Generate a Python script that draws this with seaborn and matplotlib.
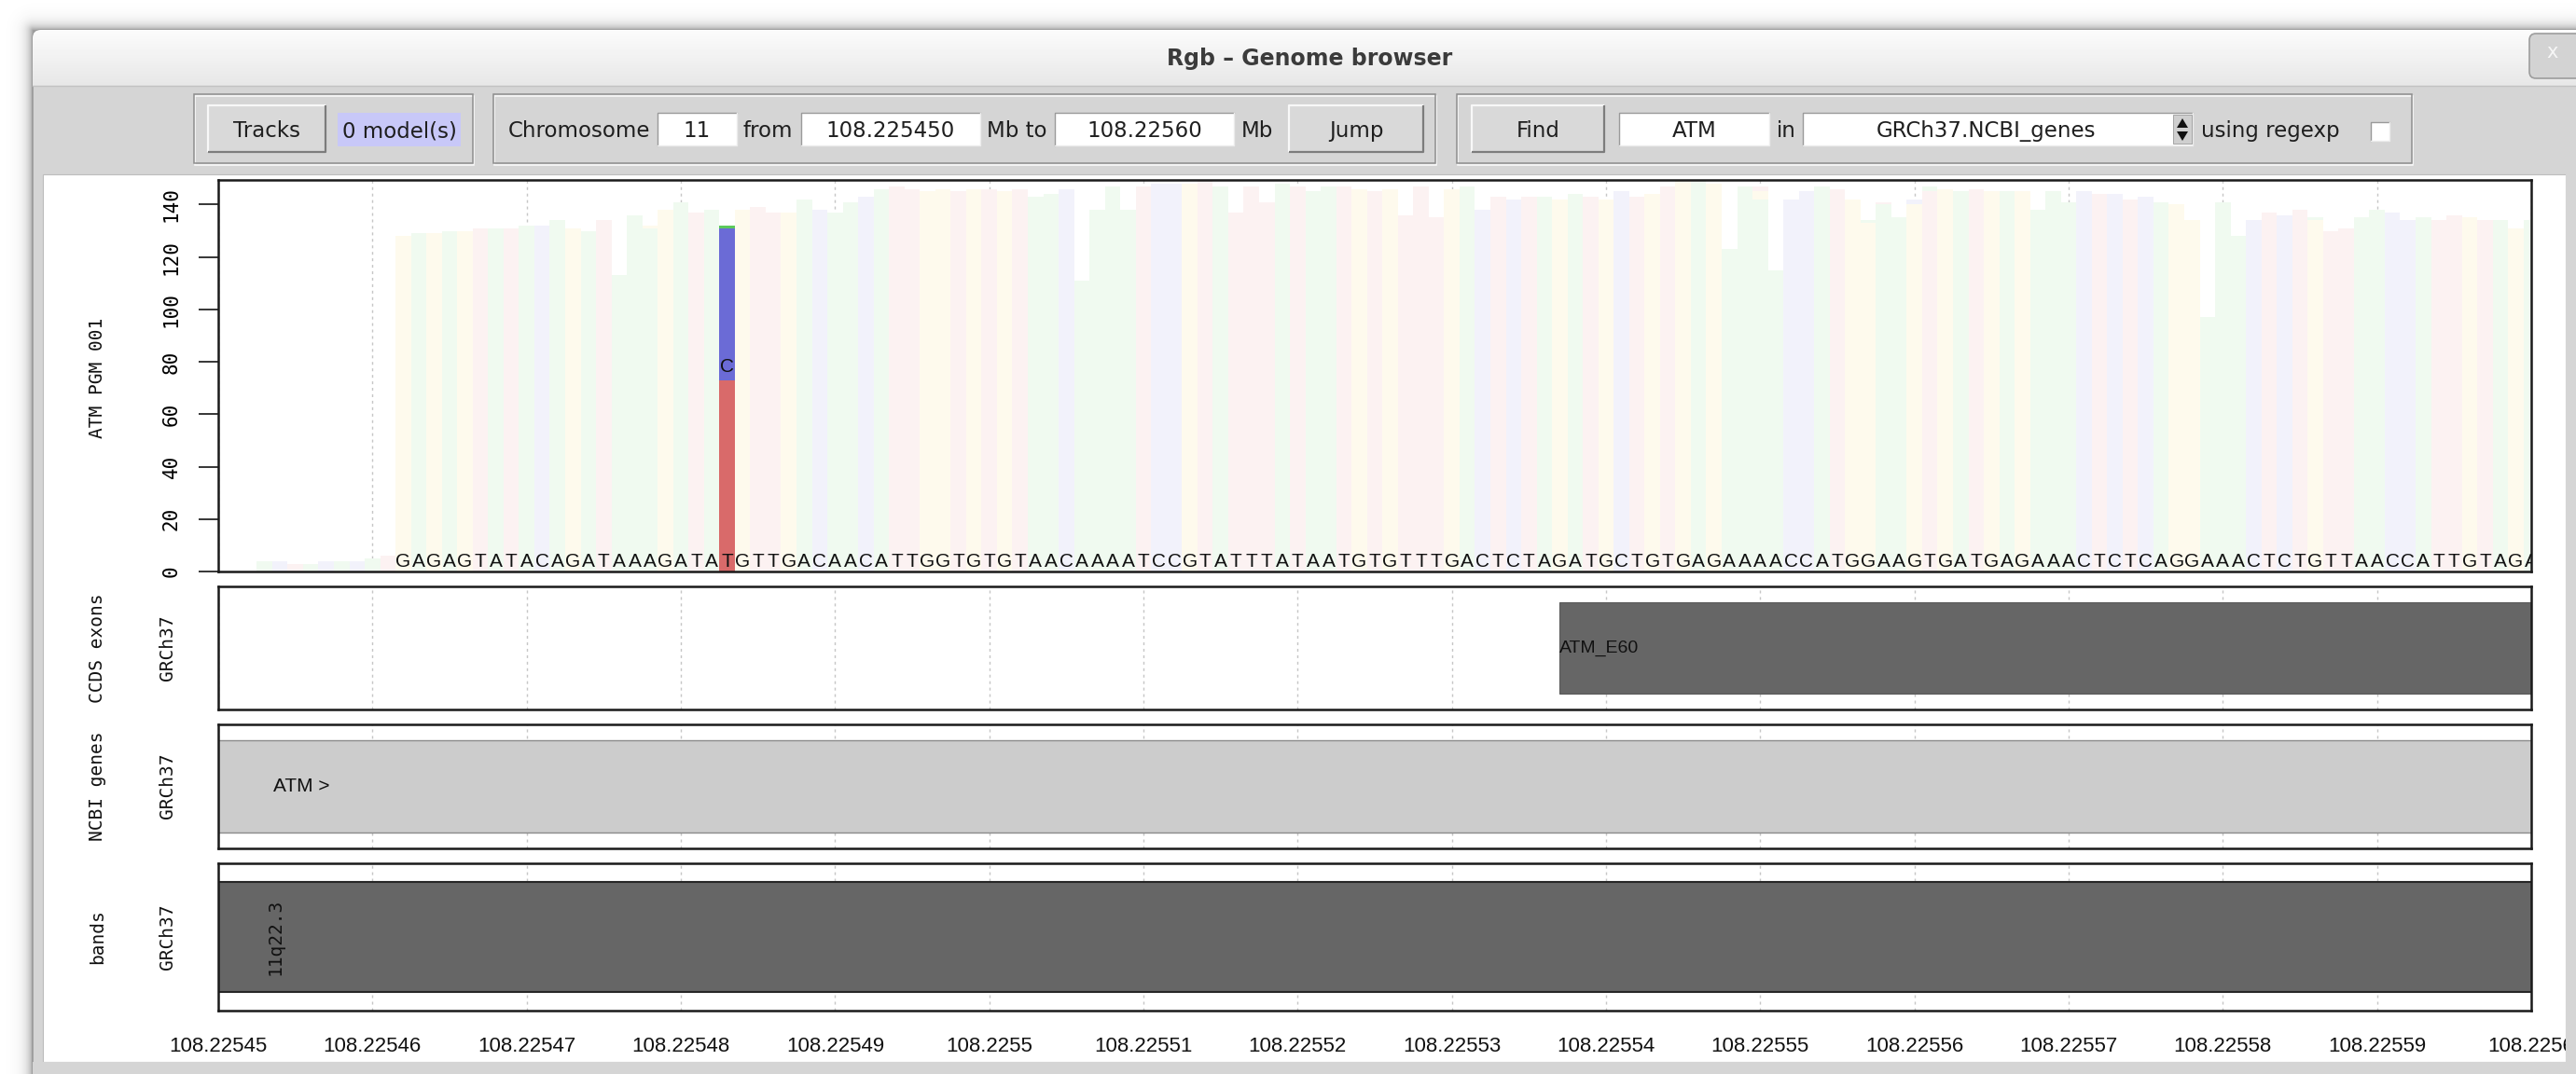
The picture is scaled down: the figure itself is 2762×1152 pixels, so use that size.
import numpy as np
import pandas as pd
import matplotlib
matplotlib.use("Agg")
import matplotlib.pyplot as plt
from matplotlib import font_manager
from matplotlib.patches import Rectangle, FancyBboxPatch, Polygon
from matplotlib.colors import to_rgb
import seaborn as sns

# ------------------------------------------------------------------ data
window_title = "Rgb \u2013 Genome browser"
models_label = "0 model(s)"
chromosome = "11"
view_from_mb = "108.225450"
view_to_mb = "108.22560"
search_term = "ATM"
search_track = "GRCh37.NCBI_genes"

view_start = 108225450
view_end = 108225600

# per-base read depth of the coverage track, starting at first_position
first_position = 108225453
reference_bases = ("ACTACACAT"
                   "GAGAGTATACAGATAAAGATATGTTGACAACATTGGTGTGTAACAAAATCCGTATTTATA"
                   "ATGTGTTTGACTCTAGATGCTGTGAGAAAACCATGGAAGTGATGAGAAACTCTCAGGAAA"
                   "CTCTGTTAACCATTGTAGA")
depth = [4, 4, 3, 3, 4, 4, 4, 5, 6,
         128, 129, 129, 130, 130, 131, 131, 131, 132, 132,
         134, 131, 130, 134, 113, 136, 132, 138, 141, 137,
         138, 132, 138, 139, 137, 137, 142, 138, 137, 141,
         143, 146, 147, 146, 145, 146, 145, 146, 146, 145,
         146, 143, 144, 146, 111, 138, 147, 138, 147, 148,
         148, 148, 149, 147, 137, 147, 141, 148, 147, 145,
         147, 147, 146, 145, 146, 136, 147, 135, 146, 147,
         138, 143, 142, 143, 143, 142, 144, 143, 142, 145,
         143, 144, 147, 149, 149, 148, 123, 147, 147, 115,
         142, 145, 147, 146, 142, 134, 141, 135, 142, 147,
         146, 145, 146, 145, 145, 145, 138, 145, 141, 145,
         144, 144, 142, 143, 141, 140, 134, 97, 141, 128,
         134, 137, 136, 138, 135, 130, 131, 135, 138, 137,
         134, 135, 134, 136, 135, 134, 134, 131, 134]

# non-reference base counts at low-frequency positions
minor_positions = [108225478, 108225550, 108225550, 108225557,
                   108225558, 108225560, 108225561, 108225586]
minor_bases = ["G", "G", "T", "A", "T", "C", "A", "A"]
minor_counts = [1, 3, 2, 1, 1, 2, 2, 1]

# called variant: base composition at that position
variant_position = 108225483
variant_bases = ["T", "C", "A"]
variant_counts = [73, 58, 1]
variant_label = "C"

exon_name = "ATM_E60"
exon_start = 108225537
exon_end = 108225709

gene_name = "ATM"
gene_start = 108093559
gene_end = 108239826

band_name = "11q22.3"
band_start = 102900000
band_end = 110400000

coverage_track = "ATM PGM 001"
track_names = ["CCDS exons", "NCBI genes", "bands"]
assembly = "GRCh37"

x_ticks = list(range(view_start, view_end + 1, 10))
x_tick_labels = ["108.22545", "108.22546", "108.22547", "108.22548",
                 "108.22549", "108.2255", "108.22551", "108.22552",
                 "108.22553", "108.22554", "108.22555", "108.22556",
                 "108.22557", "108.22558", "108.22559", "108.2256"]
y_ticks = [0, 20, 40, 60, 80, 100, 120, 140]
depth_max = 149.4

# ------------------------------------------------------------------ style
W, H, DPI = 2762, 1152, 100
base_colors = {"A": "#5cc95c", "C": "#6b6bd6", "G": "#f5c232", "T": "#d96a6a"}


def pale(color, strength=0.09):
    rgb = np.array(to_rgb(color))
    return tuple(1.0 - strength * (1.0 - rgb))


def first_available(names, fallback):
    for name in names:
        try:
            font_manager.findfont(font_manager.FontProperties(family=name),
                                  fallback_to_default=False)
            return name
        except Exception:
            pass
    return fallback


GUI = "DejaVu Sans"
MONO = "DejaVu Sans Mono"
PLOT = first_available(["Liberation Sans"], "DejaVu Sans")
NARROW = first_available(["Liberation Sans Narrow", "Arial Narrow"], PLOT)
GUI_FS = 16.5
TXT = "#1f1f1f"

fig = plt.figure(figsize=(W / DPI, H / DPI), dpi=DPI, facecolor="white")


def px_axes(x0, y0, x1, y1):
    return fig.add_axes([x0 / W, 1 - y1 / H, (x1 - x0) / W, (y1 - y0) / H])


# ------------------------------------------------------------------ window chrome
bg = px_axes(0, 0, W, H)
bg.set_zorder(-1)
bg.axis("off")

WX, WY = 35, 32
yy, xx = np.mgrid[0:H, 0:W].astype(float)
dist = np.hypot(np.clip(WX - xx, 0, None), np.clip(WY - yy, 0, None))
shadow = np.zeros((H, W, 4))
shadow[..., :3] = 0.25
shadow[..., 3] = 0.5 * np.exp(-dist / 6.0)
bg.imshow(shadow, extent=(0, W, H, 0), aspect="auto", interpolation="bilinear", zorder=0.1)

body = FancyBboxPatch((WX, WY), W + 40, H + 40, boxstyle="round,pad=0,rounding_size=9",
                      fc="#d5d5d5", ec="#9a9a9a", lw=1.2, zorder=0.2)
bg.add_patch(body)
grad = np.linspace(0.985, 0.905, 60)[:, None]
title_im = bg.imshow(grad, cmap="gray", vmin=0, vmax=1, extent=(WX, W + 20, 92, WY),
                     aspect="auto", zorder=0.3)
title_im.set_clip_path(body)
bg.plot([WX, W], [92, 92], color="#c2c2c2", lw=1, zorder=0.4)
bg.text(1404, 70, window_title, ha="center", va="baseline", fontsize=17,
        fontweight="bold", family=GUI, color="#3b3b3b", zorder=1)

close_btn = FancyBboxPatch((2712, 36), 70, 48, boxstyle="round,pad=0,rounding_size=7",
                           fc="#d3d3d3", ec="#9d9d9d", lw=1.2, zorder=0.5)
bg.add_patch(close_btn)
bg.text(2737, 62, "x", ha="center", va="baseline", fontsize=15, family=GUI,
        color="#f6f6f6", zorder=1)

# white content area
bg.add_patch(Rectangle((46, 187), 2751 - 46, 1139 - 187, fc="white", ec="#bdbdbd",
                       lw=0.8, zorder=0.5))


def etched_frame(x0, y0, x1, y1):
    bg.add_patch(Rectangle((x0 + 1.5, y0 + 1.5), x1 - x0, y1 - y0, fill=False,
                           ec="#fbfbfb", lw=1.1, zorder=0.6))
    bg.add_patch(Rectangle((x0, y0), x1 - x0, y1 - y0, fill=False,
                           ec="#8e8e8e", lw=1.1, zorder=0.6))


def button(x0, y0, x1, y1, label):
    bg.add_patch(Rectangle((x0, y0), x1 - x0, y1 - y0, fc="#d9d9d9", ec="none", zorder=0.6))
    bg.plot([x0, x0, x1], [y1, y0, y0], color="#f8f8f8", lw=1.6, zorder=0.7,
            solid_capstyle="butt")
    bg.plot([x0, x1, x1], [y1, y1, y0], color="#7c7c7c", lw=1.6, zorder=0.7,
            solid_capstyle="butt")
    bg.text((x0 + x1) / 2, 147, label, ha="center", va="baseline", fontsize=GUI_FS,
            family=GUI, color=TXT, zorder=1)


def entry(x0, y0, x1, y1, label, cx=None, fc="white"):
    bg.add_patch(Rectangle((x0, y0), x1 - x0, y1 - y0, fc=fc, ec="none", zorder=0.6))
    bg.plot([x0, x0, x1], [y1, y0, y0], color="#9a9a9a", lw=1.0, zorder=0.7)
    bg.plot([x0, x1, x1], [y1, y1, y0], color="#ececec", lw=1.0, zorder=0.7)
    if label:
        bg.text((x0 + x1) / 2 if cx is None else cx, 147, label, ha="center",
                va="baseline", fontsize=GUI_FS, family=GUI, color=TXT, zorder=1)


def label(x, s):
    bg.text(x, 147, s, ha="left", va="baseline", fontsize=GUI_FS, family=GUI,
            color=TXT, zorder=1)


etched_frame(208, 101, 507, 175)
button(223, 113, 349, 163, "Tracks")
bg.add_patch(Rectangle((362, 121), 494 - 362, 157 - 121, fc="#c8c8f8", ec="none", zorder=0.6))
bg.text(428, 147, models_label, ha="center", va="baseline", fontsize=GUI_FS, family=GUI,
        color=TXT, zorder=1)

etched_frame(529, 101, 1539, 175)
label(545, "Chromosome")
entry(705, 121, 790, 156, chromosome)
label(797, "from")
entry(859, 121, 1051, 156, view_from_mb)
label(1058, "Mb to")
entry(1131, 121, 1323, 156, view_to_mb)
label(1331, "Mb")
button(1382, 113, 1526, 163, "Jump")

etched_frame(1562, 101, 2586, 175)
button(1578, 113, 1720, 163, "Find")
entry(1736, 121, 1897, 156, search_term)
label(1905, "in")
entry(1933, 121, 2351, 156, search_track, cx=2130)
bg.add_patch(Rectangle((2330, 123), 20, 31, fc="#cfcfcf", ec="#9a9a9a", lw=0.6, zorder=0.8))
bg.add_patch(Polygon([[2334, 137], [2346, 137], [2340, 127]], closed=True, fc="#111111", zorder=0.9))
bg.add_patch(Polygon([[2334, 141], [2346, 141], [2340, 151]], closed=True, fc="#111111", zorder=0.9))
label(2360, "using regexp")
entry(2542, 131, 2562, 151, "")

# ------------------------------------------------------------------ plot panels
LEFT, RIGHT = 234, 2714
ax_cov = px_axes(LEFT, 193, RIGHT, 613)
ax_exon = px_axes(LEFT, 629, RIGHT, 761)
ax_gene = px_axes(LEFT, 777, RIGHT, 910)
ax_band = px_axes(LEFT, 926, RIGHT, 1084)
panels = [ax_cov, ax_exon, ax_gene, ax_band]

positions = np.arange(first_position, first_position + len(reference_bases))
cov = pd.DataFrame({"position": positions, "base": list(reference_bases), "depth": depth})
minor = pd.DataFrame({"position": minor_positions, "base": minor_bases, "count": minor_counts})
minor_total = minor.groupby("position")["count"].sum()
cov["ref_depth"] = cov["depth"] - cov["position"].map(minor_total).fillna(0)

pale_palette = {b: pale(c) for b, c in base_colors.items()}
sns.barplot(data=cov[cov["position"] != variant_position], x="position", y="ref_depth",
            hue="base", palette=pale_palette, native_scale=True, dodge=False, width=1,
            saturation=1, errorbar=None, legend=False, edgecolor="none", linewidth=0,
            ax=ax_cov)

for pos, grp in minor.groupby("position"):
    bottom = float(cov.loc[cov["position"] == pos, "ref_depth"].iloc[0])
    for b, n in zip(grp["base"], grp["count"]):
        ax_cov.bar(pos, n, bottom=bottom, width=1, color=pale_palette[b], linewidth=0)
        bottom += n

bottom = 0
for b, n in zip(variant_bases, variant_counts):
    ax_cov.bar(variant_position, n, bottom=bottom, width=1, color=base_colors[b], linewidth=0)
    bottom += n
ax_cov.text(variant_position, variant_counts[0] + 3, variant_label, ha="center",
            va="baseline", fontsize=15, family=NARROW, color="#111111")

for pos, base, d in zip(cov["position"], cov["base"], cov["depth"]):
    if d >= 20:
        ax_cov.text(pos, 1.8, base, ha="center", va="baseline", fontsize=15,
                    family=NARROW, color="#111111", clip_on=True)

ax_cov.set_ylim(0, depth_max)
ax_cov.set_yticks(y_ticks)
ax_cov.tick_params(axis="y", direction="out", length=15, width=1.1, pad=14,
                   labelsize=15, labelrotation=90, labelfontfamily=MONO)
for lab in ax_cov.get_yticklabels():
    lab.set_va("center")

# annotation tracks
ax_exon.barh(0.5, exon_end - exon_start, left=exon_start, height=0.747,
             color="#666666", edgecolor="#5a5a5a", linewidth=0.8)
ax_exon.text(exon_start, 0.5, exon_name, ha="left", va="center", fontsize=14,
             family=NARROW, color="#111111", clip_on=True)

ax_gene.barh(0.5, gene_end - gene_start, left=gene_start, height=0.737,
             color="#cccccc", edgecolor="#8a8a8a", linewidth=1.0)
ax_gene.text(0.0238, 0.5, f"{gene_name} >", transform=ax_gene.transAxes, ha="left",
             va="center", fontsize=15, family=NARROW, color="#111111")

ax_band.barh(0.5, band_end - band_start, left=band_start, height=0.741,
             color="#666666", edgecolor="#262626", linewidth=1.5)
ax_band.text(0.0248, 0.5, band_name, transform=ax_band.transAxes, rotation=90,
             ha="center", va="center", fontsize=14, family=MONO, color="#111111")

for ax in panels:
    ax.set_facecolor("white")
    ax.set_xlim(view_start, view_end)
    ax.set_xticks(x_ticks)
    ax.grid(axis="x", color="#c6c6c6", linestyle=(0, (2.2, 2.8)), linewidth=1.0)
    ax.grid(axis="y", visible=False)
    ax.set_axisbelow(True)
    ax.set_xlabel("")
    ax.set_ylabel("")
    for s in ax.spines.values():
        s.set_linewidth(1.8)
        s.set_color("#1a1a1a")
    if ax is not ax_cov:
        ax.set_ylim(0, 1)
        ax.set_yticks([])
    if ax is not ax_band:
        ax.tick_params(axis="x", length=0, labelbottom=False)

ax_band.set_xticks(x_ticks, x_tick_labels)
ax_band.tick_params(axis="x", length=0, pad=20, labelsize=16, labelfontfamily=PLOT,
                    labelcolor="#111111")

# track names at the left of each panel
side = [(405, coverage_track, None), (695, track_names[0], assembly),
        (843, track_names[1], assembly), (1005, track_names[2], assembly)]
for yc, name, asm in side:
    bg.text(105, yc, name, rotation=90, ha="center", va="center", fontsize=14,
            family=MONO, color="#111111", zorder=1)
    if asm:
        bg.text(180, yc, asm, rotation=90, ha="center", va="center", fontsize=14,
                family=MONO, color="#111111", zorder=1)

bg.set_xlim(0, W)
bg.set_ylim(H, 0)

# window frame edges painted over the panels
fig.add_artist(Rectangle((2751 / W, 0), (W - 2751) / W, (H - 187) / H,
                         transform=fig.transFigure, fc="#d5d5d5", ec="none", zorder=5))
fig.add_artist(Rectangle((WX / W, 0), (W - WX) / W, (H - 1139) / H,
                         transform=fig.transFigure, fc="#d5d5d5", ec="none", zorder=5))

fig.savefig("out.png", dpi=DPI, facecolor="white")
